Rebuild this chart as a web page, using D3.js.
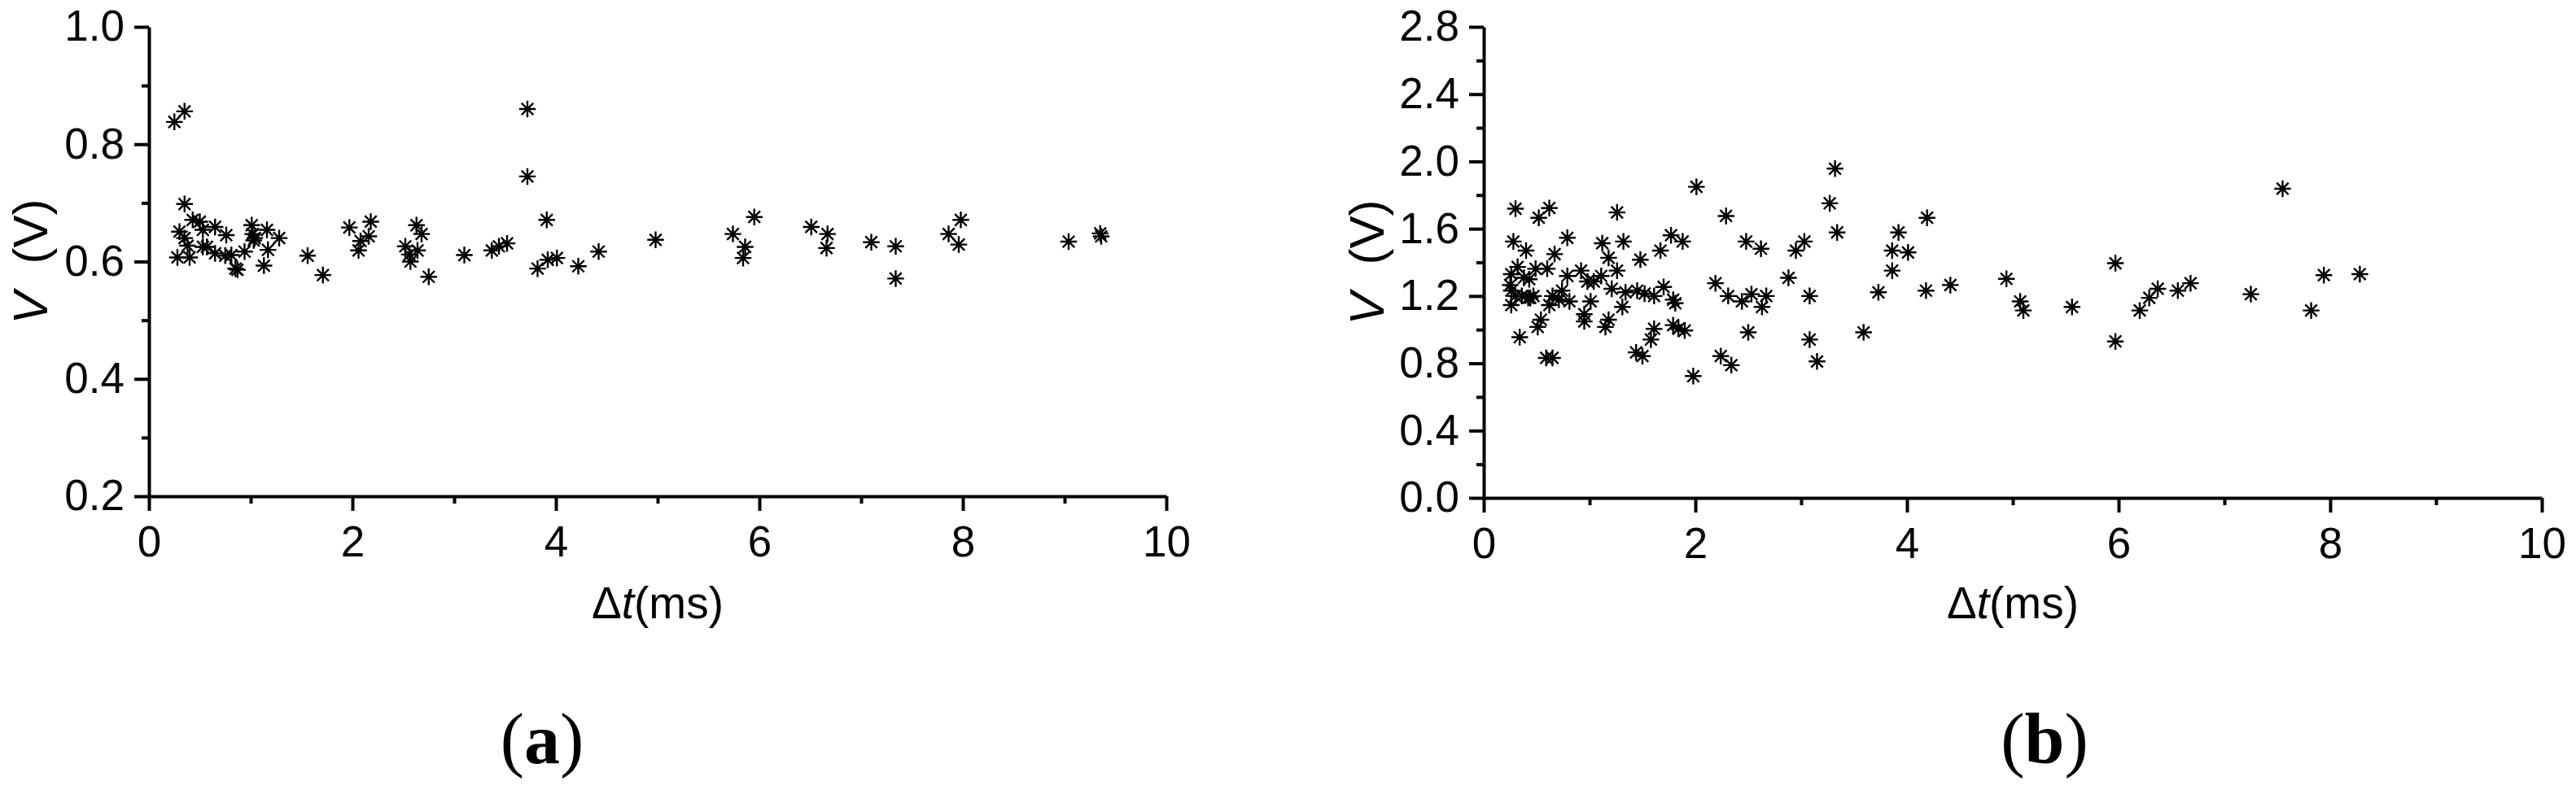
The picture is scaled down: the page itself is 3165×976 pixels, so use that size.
<!DOCTYPE html>
<html>
<head>
<meta charset="utf-8">
<script src="https://d3js.org/d3.v7.min.js"></script>
<style>
body { margin: 0; background: #fff; }
.axis path, .axis line { stroke: #000; stroke-width: 4; }
.axis text { font-family: "Liberation Sans", Arial, sans-serif; font-size: 53px; fill: #000; }
.label { font-family: "Liberation Sans", Arial, sans-serif; fill: #000; }
</style>
</head>
<body>
<div id="chart-area"></div>
<script>

// shared x ticks (delta t, ms)
var xTicks = [0, 2, 4, 6, 8, 10];
var xMinor = [1, 3, 5, 7, 9];

// panel (a): [dt (ms), V (V)]
var pointsA = [
    [0.25, 0.838], [0.35, 0.856], [0.35, 0.698], [0.30, 0.651], [0.28, 0.607], [0.40, 0.607],
    [0.35, 0.640], [0.38, 0.627], [0.43, 0.671], [0.50, 0.668], [0.53, 0.654], [0.53, 0.625],
    [0.57, 0.625], [0.65, 0.659], [0.65, 0.614], [0.76, 0.645], [0.75, 0.610], [0.81, 0.611],
    [0.85, 0.588], [0.87, 0.586], [0.94, 0.617], [1.01, 0.662], [1.02, 0.647], [1.04, 0.640],
    [1.03, 0.636], [1.13, 0.593], [1.16, 0.654], [1.17, 0.620], [1.28, 0.640], [1.56, 0.610],
    [1.71, 0.577], [1.97, 0.658], [2.06, 0.619], [2.08, 0.635], [2.18, 0.668], [2.16, 0.643],
    [2.52, 0.626], [2.57, 0.600], [2.56, 0.612], [2.63, 0.662], [2.64, 0.619], [2.68, 0.647],
    [2.75, 0.574], [3.10, 0.611], [3.37, 0.619], [3.44, 0.626], [3.52, 0.631], [3.72, 0.860],
    [3.72, 0.745], [3.91, 0.671], [3.82, 0.588], [3.92, 0.603], [4.01, 0.606], [4.22, 0.592],
    [4.42, 0.617], [4.98, 0.637], [5.74, 0.647], [5.84, 0.606], [5.86, 0.625], [5.95, 0.676],
    [6.51, 0.659], [6.67, 0.647], [6.66, 0.623], [7.10, 0.633], [7.34, 0.626], [7.34, 0.571],
    [7.86, 0.647], [7.98, 0.671], [7.96, 0.629], [9.04, 0.634], [9.35, 0.648], [9.36, 0.643]
];
var yTicksA = [0.2, 0.4, 0.6, 0.8, 1.0];
var yMinorA = [0.3, 0.5, 0.7, 0.9];

// panel (b)
var pointsB = [
    [0.30, 1.719], [0.28, 1.524], [0.26, 1.330], [0.25, 1.265], [0.26, 1.232], [0.26, 1.146],
    [0.30, 1.200], [0.34, 0.955], [0.32, 1.373], [0.40, 1.470], [0.38, 1.308], [0.36, 1.200],
    [0.42, 1.189], [0.43, 1.300], [0.44, 1.189], [0.47, 1.200], [0.52, 1.665], [0.49, 1.362],
    [0.54, 1.059], [0.51, 1.016], [0.60, 1.362], [0.62, 1.723], [0.59, 0.832], [0.65, 0.832],
    [0.62, 1.146], [0.67, 1.449], [0.65, 1.200], [0.71, 1.178], [0.74, 1.232], [0.79, 1.546],
    [0.79, 1.319], [0.81, 1.168], [0.92, 1.351], [0.95, 1.092], [0.95, 1.049], [0.98, 1.286],
    [1.01, 1.168], [1.04, 1.286], [1.11, 1.319], [1.12, 1.514], [1.15, 1.016], [1.18, 1.059],
    [1.18, 1.427], [1.21, 1.243], [1.26, 1.697], [1.26, 1.351], [1.31, 1.135], [1.32, 1.524],
    [1.34, 1.222], [1.44, 0.865], [1.45, 1.232], [1.50, 0.843], [1.48, 1.416], [1.52, 1.214],
    [1.58, 0.941], [1.61, 1.005], [1.61, 1.200], [1.67, 1.470], [1.70, 1.254], [1.77, 1.561],
    [1.79, 1.178], [1.79, 1.027], [1.81, 1.157], [1.84, 1.005], [1.88, 1.524], [1.90, 0.995],
    [1.98, 0.724], [2.01, 1.849], [2.19, 1.276], [2.24, 0.843], [2.29, 1.676], [2.31, 1.200],
    [2.34, 0.789], [2.44, 1.168], [2.48, 1.524], [2.50, 0.984], [2.53, 1.211], [2.62, 1.481],
    [2.63, 1.135], [2.67, 1.200], [2.88, 1.308], [2.95, 1.470], [3.03, 1.524], [3.08, 1.200],
    [3.08, 0.941], [3.15, 0.811], [3.27, 1.751], [3.32, 1.957], [3.34, 1.578], [3.59, 0.984],
    [3.73, 1.222], [3.86, 1.470], [3.86, 1.351], [3.92, 1.578], [4.01, 1.459], [4.19, 1.665],
    [4.18, 1.232], [4.41, 1.265], [4.94, 1.302], [5.07, 1.168], [5.10, 1.114], [5.56, 1.135],
    [5.97, 1.395], [5.97, 0.930], [6.20, 1.114], [6.29, 1.189], [6.37, 1.243], [6.56, 1.232],
    [6.68, 1.276], [7.25, 1.211], [7.55, 1.838], [7.82, 1.114], [7.94, 1.324], [8.28, 1.330]
];
var yTicksB = [0.0, 0.4, 0.8, 1.2, 1.6, 2.0, 2.4, 2.8];
var yMinorB = [0.2, 0.6, 1.0, 1.4, 1.8, 2.2, 2.6];

// layout of the two panels (pixels)
var panels = [
    {points: pointsA, yTicks: yTicksA, yMinor: yMinorA, yDomain: [0.2, 1.0],
     left: 183, right: 1433, top: 33, bottom: 610, yLabelX: 58, caption: "a", capX: 666},
    {points: pointsB, yTicks: yTicksB, yMinor: yMinorB, yDomain: [0.0, 2.8],
     left: 1823, right: 3123, top: 33, bottom: 612, yLabelX: 1700, caption: "b", capX: 2512}
];

// 8-armed asterisk marker
var asterisk = {
    draw: function(context, size) {
        var r = Math.sqrt(size) / 2;
        var d = r * Math.SQRT1_2;
        context.moveTo(0, -r); context.lineTo(0, r);
        context.moveTo(-r, 0); context.lineTo(r, 0);
        context.moveTo(-d, -d); context.lineTo(d, d);
        context.moveTo(-d, d); context.lineTo(d, -d);
    }
};

var svg = d3.select("#chart-area").append("svg")
    .attr("width", 3165)
    .attr("height", 976);

svg.append("rect").attr("width", 3165).attr("height", 976).attr("fill", "#fff");

panels.forEach(drawPanel);

function drawPanel(p) {
    var x = d3.scaleLinear().domain([0, 10]).range([p.left, p.right]);
    var y = d3.scaleLinear().domain(p.yDomain).range([p.bottom, p.top]);
    var g = svg.append("g");

    // minor ticks
    g.append("g").attr("class", "axis")
        .attr("transform", "translate(0," + p.bottom + ")")
        .call(d3.axisBottom(x).tickValues(xMinor).tickSize(9).tickFormat(""))
        .call(function(a) { a.select(".domain").remove(); });
    g.append("g").attr("class", "axis")
        .attr("transform", "translate(" + p.left + ",0)")
        .call(d3.axisLeft(y).tickValues(p.yMinor).tickSize(9).tickFormat(""))
        .call(function(a) { a.select(".domain").remove(); });

    // major axes
    g.append("g").attr("class", "axis")
        .attr("transform", "translate(0," + p.bottom + ")")
        .call(d3.axisBottom(x).tickValues(xTicks).tickSize(18).tickSizeOuter(0).tickPadding(18));
    g.append("g").attr("class", "axis")
        .attr("transform", "translate(" + p.left + ",0)")
        .call(d3.axisLeft(y).tickValues(p.yTicks).tickSize(18).tickSizeOuter(0).tickPadding(12)
            .tickFormat(d3.format(".1f")));

    // points
    g.append("g").selectAll("path")
        .data(p.points)
        .join("path")
        .attr("transform", function(d) { return "translate(" + x(d[0]) + "," + y(d[1]) + ")"; })
        .attr("d", d3.symbol().type(asterisk).size(420))
        .attr("fill", "none")
        .attr("stroke", "#000")
        .attr("stroke-width", 2.4);

    // x axis title
    var xl = g.append("text").attr("class", "label")
        .attr("x", (p.left + p.right) / 2)
        .attr("y", 760)
        .attr("text-anchor", "middle")
        .attr("font-size", 55);
    xl.append("tspan").text("\u0394");
    xl.append("tspan").attr("font-style", "italic").text("t");
    xl.append("tspan").text("(ms)");

    // y axis title, V (V) with a wide gap like a full-width bracket
    var yl = g.append("text").attr("class", "label")
        .attr("transform", "translate(" + p.yLabelX + "," + ((p.top + p.bottom) / 2) + ") rotate(-90)")
        .attr("text-anchor", "middle")
        .attr("font-size", 60);
    yl.append("tspan").attr("font-style", "italic").text("V");
    yl.append("tspan").attr("dx", 34).text("(V)");

    // caption (a) / (b)
    var cap = g.append("text")
        .attr("x", p.capX)
        .attr("y", 938)
        .attr("text-anchor", "middle")
        .attr("font-family", "'Liberation Serif', 'Times New Roman', serif")
        .attr("font-size", 88);
    cap.append("tspan").text("(");
    cap.append("tspan").attr("font-weight", "bold").text(p.caption);
    cap.append("tspan").text(")");
}
</script>
</body>
</html>
